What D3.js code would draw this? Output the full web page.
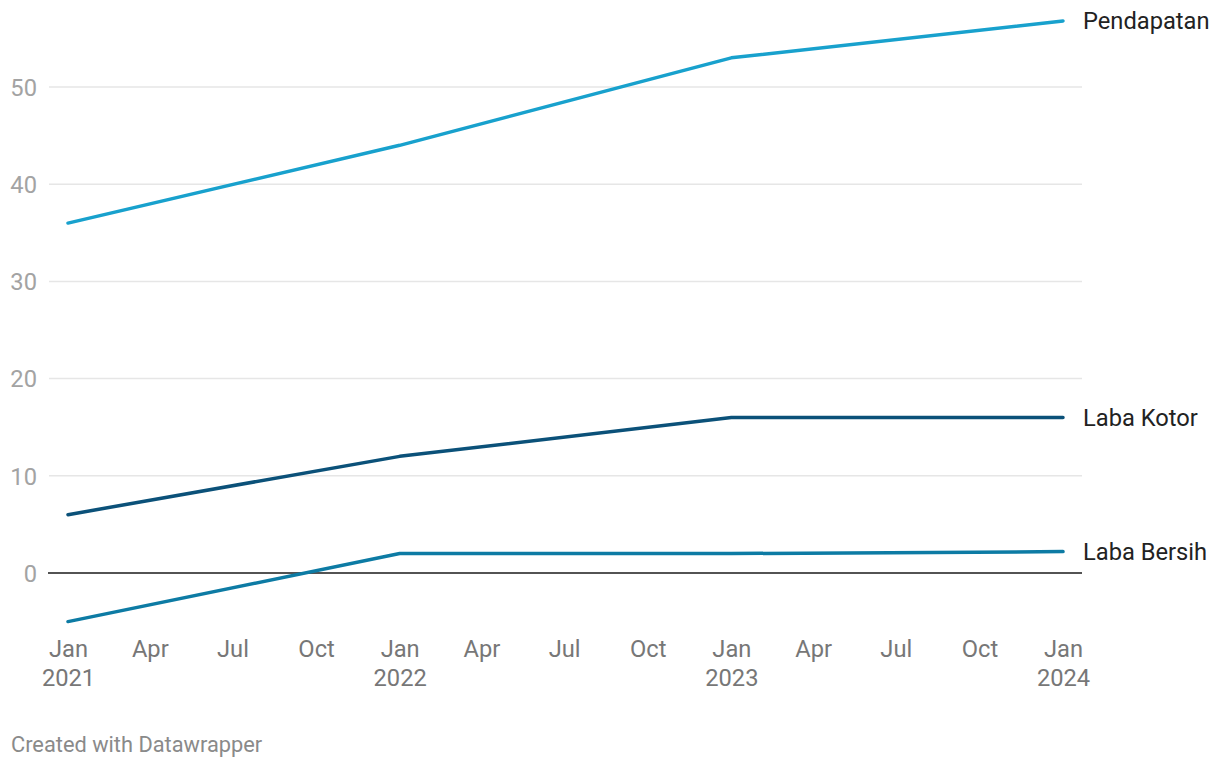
<!DOCTYPE html>
<html>
<head>
<meta charset="utf-8">
<script src="https://cdn.jsdelivr.net/npm/d3@7"></script>
<style>
  body { margin: 0; background: #fff; font-family: Roboto, "Noto Sans", sans-serif; }
  svg { display: block; }
</style>
</head>
<body>
<svg id="chart" width="1220" height="768"></svg>
<script>
const dates = ["2021-01-01", "2022-01-01", "2023-01-01", "2024-01-01"];
const seriesNames = ["Pendapatan", "Laba Kotor", "Laba Bersih"];
const pendapatan = [36, 44, 53, 56.8];
const labaKotor = [6, 12, 16, 16];
const labaBersih = [-5, 2, 2, 2.2];
const seriesColors = ["#18a1cd", "#0b5179", "#0d7ba4"];
const yTicks = [0, 10, 20, 30, 40, 50];
const monthNames = ["Jan", "Apr", "Jul", "Oct"];

const parse = d3.timeParse("%Y-%m-%d");
const parsedDates = dates.map(parse);
const allSeries = [pendapatan, labaKotor, labaBersih].map((vals, i) => ({
  name: seriesNames[i], color: seriesColors[i],
  values: vals.map((v, j) => ({ date: parsedDates[j], value: v }))
}));

const svg = d3.select("#chart");
const gridLeft = 49, gridRight = 1082;
const FS = 23.7;

const x = d3.scaleTime()
  .domain([parsedDates[0], parsedDates[parsedDates.length - 1]])
  .range([68, 1063]);
const y = d3.scaleLinear().domain([0, 50]).range([573, 87]);

// gridlines
const grid = svg.append("g");
yTicks.filter(t => t !== 0).forEach(t => {
  grid.append("line")
    .attr("x1", gridLeft).attr("x2", gridRight)
    .attr("y1", y(t)).attr("y2", y(t))
    .attr("stroke", "#e6e6e6").attr("stroke-width", 1.5);
});

// y labels
const yAxis = d3.axisLeft(y).tickValues(yTicks).tickSize(0).tickPadding(0);
const yG = svg.append("g").attr("transform", "translate(37,0)").call(yAxis);
yG.select(".domain").remove();
yG.selectAll("text")
  .attr("font-family", "Roboto, sans-serif")
  .attr("font-size", FS)
  .attr("fill", "#a3a3a3")
  .attr("text-anchor", "end")
  .attr("dy", "0.35em");

// zero line
svg.append("line")
  .attr("x1", gridLeft - 1).attr("x2", gridRight)
  .attr("y1", y(0)).attr("y2", y(0))
  .attr("stroke", "#1a1a1a").attr("stroke-width", 1.5);

// x axis ticks
const xTicks = x.ticks(d3.timeMonth.every(3));
const xAxis = d3.axisBottom(x).tickValues(xTicks).tickSize(0).tickPadding(0).tickFormat(() => "");
const xG = svg.append("g").attr("transform", "translate(0,636)").call(xAxis);
xG.select(".domain").remove();
xG.selectAll(".tick text").remove();
xG.selectAll(".tick").each(function(d) {
  const g = d3.select(this);
  const m = d.getMonth();
  const t = g.append("text")
    .attr("font-family", "Roboto, sans-serif")
    .attr("font-size", FS)
    .attr("fill", "#777")
    .attr("text-anchor", "middle");
  t.append("tspan").attr("x", 0).attr("y", 21).text(monthNames[m / 3]);
  if (m === 0) t.append("tspan").attr("x", 0).attr("y", 50).text(d.getFullYear());
});

// lines
const line = d3.line().x(d => x(d.date)).y(d => y(d.value));
allSeries.forEach(s => {
  svg.append("path")
    .datum(s.values)
    .attr("d", line)
    .attr("fill", "none")
    .attr("stroke", s.color)
    .attr("stroke-width", 3.5)
    .attr("stroke-linecap", "round")
    .attr("stroke-linejoin", "round");
  const last = s.values[s.values.length - 1];
  svg.append("text")
    .attr("x", 1083)
    .attr("y", y(last.value))
    .attr("dy", "0.36em")
    .attr("font-family", "Roboto, sans-serif")
    .attr("font-size", FS)
    .attr("fill", "#222")
    .text(s.name);
});

// footer
svg.append("text")
  .attr("x", 11).attr("y", 752)
  .attr("font-family", "Roboto, sans-serif")
  .attr("font-size", 21.8)
  .attr("fill", "#8a8a8a")
  .text("Created with Datawrapper");
</script>
</body>
</html>
